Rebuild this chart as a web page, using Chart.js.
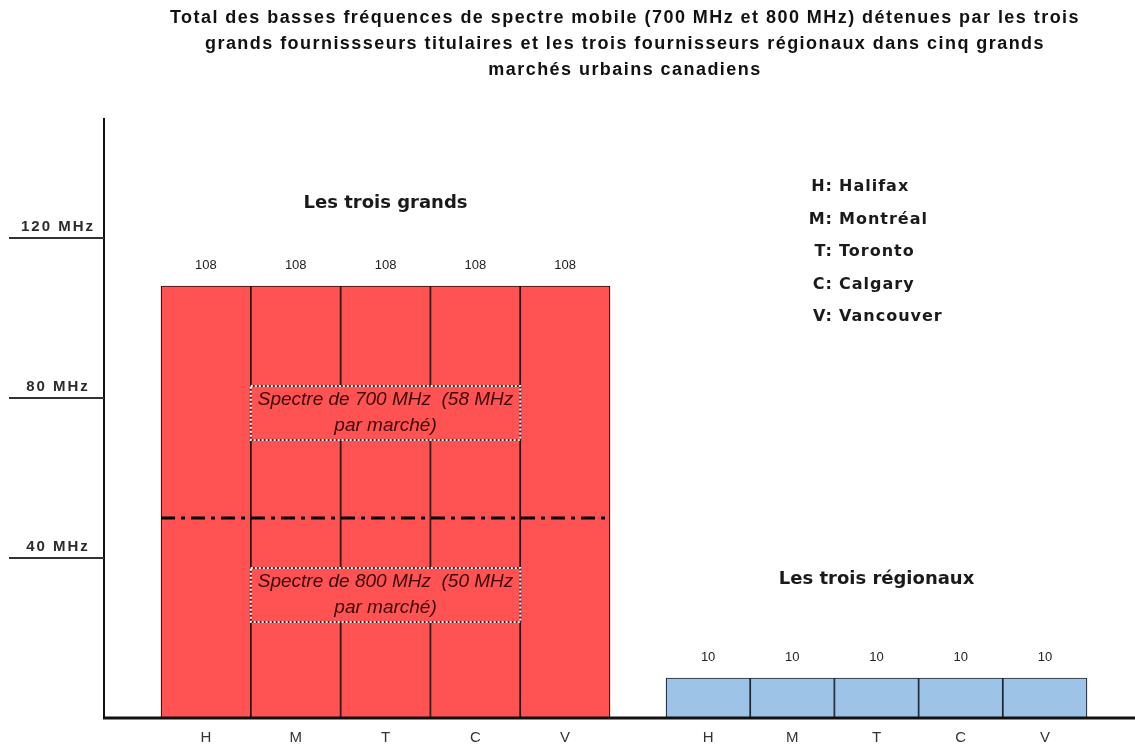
<!DOCTYPE html>
<html>
<head>
<meta charset="utf-8">
<script src="https://cdn.jsdelivr.net/npm/chart.js@4/dist/chart.umd.min.js"></script>
<style>
  html, body { margin: 0; padding: 0; background: #fff; }
  #wrap { width: 1135px; height: 748px; position: relative; }
</style>
</head>
<body>
<div id="wrap"><canvas id="chart"></canvas></div>
<script>
// ---- Data ----
const titleLines = [
  'Total des basses fréquences de spectre mobile (700 MHz et 800 MHz) détenues par les trois',
  'grands fournissseurs titulaires et les trois fournisseurs régionaux dans cinq grands',
  'marchés urbains canadiens'
];
const cityCodes = ['H', 'M', 'T', 'C', 'V'];
const cityNames = ['Halifax', 'Montréal', 'Toronto', 'Calgary', 'Vancouver'];
const incumbentTotals = [108, 108, 108, 108, 108];   // MHz, les trois grands
const regionalTotals = [10, 10, 10, 10, 10];          // MHz, les trois régionaux
const yTickValues = [40, 80, 120];
const yTickLabels = ['40 MHz', '80 MHz', '120 MHz'];
const band800Share = 50;   // MHz par marché (800 MHz)
const band700Share = 58;   // MHz par marché (700 MHz)
const groupTitles = ['Les trois grands', 'Les trois régionaux'];
const bandNotes = [
  ['Spectre de 700 MHz  (58 MHz', 'par marché)'],
  ['Spectre de 800 MHz  (50 MHz', 'par marché)']
];

// ---- Layout / style ----
const RED = '#FF5252';
const BLUE = '#9DC3E6';
const noteLevels = [[69.5, 83], [24, 37.5]];   // value range of each note box
const groupTitleLevels = [128.75, 34.75];
const legendX = 833, legendTop = 187, legendStep = 32.5;
const SANS = '"Liberation Sans", Arial, sans-serif';
const DJV = '"DejaVu Sans", Verdana, sans-serif';

const decor = {
  id: 'decor',
  afterDatasetsDraw(chart) {
    const ctx = chart.ctx;
    const xL = chart.scales.xL, xR = chart.scales.xR, y = chart.scales.y;
    const area = chart.chartArea;
    ctx.save();

    // 800 / 700 MHz split line across the incumbent bars
    const ySplit = y.getPixelForValue(band800Share);
    ctx.strokeStyle = '#000';
    ctx.lineWidth = 3;
    ctx.setLineDash([14, 6, 4, 6]);
    ctx.beginPath();
    ctx.moveTo(xL.getPixelForValue(-0.5), ySplit);
    ctx.lineTo(xL.getPixelForValue(4.5), ySplit);
    ctx.stroke();
    ctx.setLineDash([]);

    // band notes
    bandNotes.forEach((lines, i) => {
      const x0 = xL.getPixelForValue(0.5), x1 = xL.getPixelForValue(3.5);
      const y0 = y.getPixelForValue(noteLevels[i][1]), y1 = y.getPixelForValue(noteLevels[i][0]);
      ctx.fillStyle = RED;
      ctx.fillRect(x0, y0, x1 - x0, y1 - y0);
      ctx.lineWidth = 2;
      ctx.strokeStyle = '#5a1a1a';
      ctx.strokeRect(x0, y0, x1 - x0, y1 - y0);
      ctx.strokeStyle = '#fff';
      ctx.setLineDash([2, 2]);
      ctx.strokeRect(x0, y0, x1 - x0, y1 - y0);
      ctx.setLineDash([]);
      ctx.fillStyle = '#3a0808';
      ctx.font = 'italic 19px ' + SANS;
      ctx.textAlign = 'center';
      ctx.textBaseline = 'middle';
      const cx = (x0 + x1) / 2, cy = (y0 + y1) / 2;
      ctx.fillText(lines[0], cx, cy - 13);
      ctx.fillText(lines[1], cx, cy + 13);
    });

    // value labels above bars
    ctx.fillStyle = '#222';
    ctx.font = '13px ' + SANS;
    ctx.textAlign = 'center';
    ctx.textBaseline = 'middle';
    incumbentTotals.forEach((v, i) => {
      ctx.fillText(String(v), xL.getPixelForValue(i), y.getPixelForValue(v) - 21);
    });
    regionalTotals.forEach((v, i) => {
      ctx.fillText(String(v), xR.getPixelForValue(i), y.getPixelForValue(v) - 21);
    });

    // category labels
    ctx.fillStyle = '#333';
    ctx.font = '15px ' + SANS;
    cityCodes.forEach((c, i) => {
      ctx.fillText(c, xL.getPixelForValue(i), area.bottom + 20);
      ctx.fillText(c, xR.getPixelForValue(i), area.bottom + 20);
    });

    // axes
    ctx.strokeStyle = '#111';
    ctx.lineWidth = 2;
    ctx.beginPath();
    ctx.moveTo(area.left, area.top);
    ctx.lineTo(area.left, area.bottom);
    ctx.stroke();
    ctx.lineWidth = 3;
    ctx.beginPath();
    ctx.moveTo(area.left - 1, area.bottom);
    ctx.lineTo(area.right, area.bottom);
    ctx.stroke();

    // y ticks
    ctx.lineWidth = 2;
    ctx.strokeStyle = '#333';
    ctx.fillStyle = '#2a2a2a';
    ctx.font = 'bold 15px ' + SANS;
    ctx.letterSpacing = '2px';
    yTickValues.forEach((v, i) => {
      const py = y.getPixelForValue(v);
      ctx.beginPath();
      ctx.moveTo(9, py);
      ctx.lineTo(area.left, py);
      ctx.stroke();
      ctx.fillText(yTickLabels[i], 58, py - 11);
    });
    ctx.letterSpacing = '0px';

    // group titles
    ctx.fillStyle = '#1a1a1a';
    ctx.font = 'bold 18px ' + DJV;
    ctx.fillText(groupTitles[0], xL.getPixelForValue(2), y.getPixelForValue(groupTitleLevels[0]));
    ctx.fillText(groupTitles[1], xR.getPixelForValue(2), y.getPixelForValue(groupTitleLevels[1]));

    // city legend
    ctx.font = 'bold 16px ' + DJV;
    ctx.letterSpacing = '1px';
    cityCodes.forEach((c, i) => {
      const py = legendTop + i * legendStep;
      ctx.textAlign = 'right';
      ctx.fillText(c + ':', legendX, py);
      ctx.textAlign = 'left';
      ctx.fillText(cityNames[i], legendX + 6, py);
    });
    ctx.letterSpacing = '0px';

    // title
    ctx.fillStyle = '#111';
    ctx.textAlign = 'center';
    ctx.font = 'bold 18px ' + SANS;
    ctx.letterSpacing = '1.45px';
    titleLines.forEach((t, i) => ctx.fillText(t, 625, 18 + i * 26));
    ctx.letterSpacing = '0px';

    ctx.restore();
  }
};

const toPoints = arr => arr.map((v, i) => ({ x: i, y: v }));

new Chart(document.getElementById('chart'), {
  type: 'bar',
  data: {
    datasets: [
      {
        label: groupTitles[0],
        data: toPoints(incumbentTotals),
        xAxisID: 'xL',
        yAxisID: 'y',
        backgroundColor: RED,
        borderColor: '#2a0c0c',
        borderWidth: 1.2,
        barPercentage: 1,
        categoryPercentage: 1,
        grouped: false
      },
      {
        label: groupTitles[1],
        data: toPoints(regionalTotals),
        xAxisID: 'xR',
        yAxisID: 'y',
        backgroundColor: BLUE,
        borderColor: '#1c2633',
        borderWidth: 1.2,
        barPercentage: 1,
        categoryPercentage: 1,
        grouped: false
      }
    ]
  },
  options: {
    responsive: true,
    maintainAspectRatio: false,
    animation: false,
    layout: { padding: { top: 118, left: 104, right: 0, bottom: 30 } },
    plugins: { legend: { display: false }, tooltip: { enabled: false }, title: { display: false } },
    scales: {
      xL: { type: 'linear', display: false, offset: false, grid: { offset: false },
            min: -1.135, max: 10.346, ticks: { stepSize: 1, includeBounds: false } },
      xR: { type: 'linear', display: false, offset: false, grid: { offset: false },
            min: -7.175, max: 5.07, ticks: { stepSize: 1, includeBounds: false } },
      y: { type: 'linear', display: false, min: 0, max: 150 }
    }
  },
  plugins: [decor]
});
</script>
</body>
</html>
